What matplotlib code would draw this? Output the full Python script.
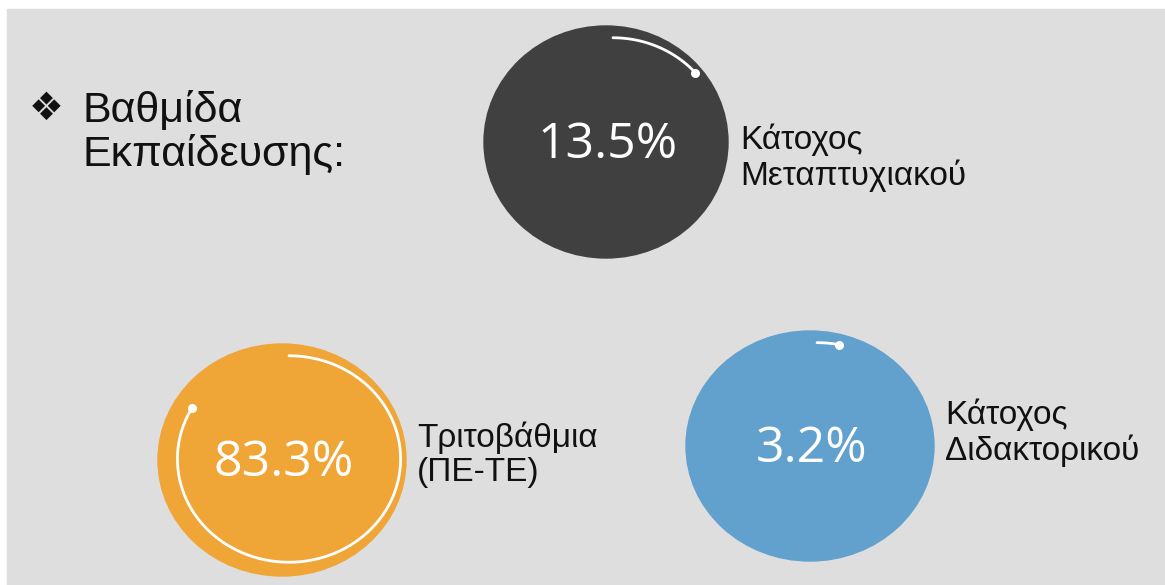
import numpy as np
import matplotlib
matplotlib.use("Agg")
import matplotlib.pyplot as plt
from matplotlib.patches import Ellipse, Rectangle

# data -----------------------------------------------------------
labels = ["Κάτοχος\nΜεταπτυχιακού", "Τριτοβάθμια\n(ΠΕ-ΤΕ)", "Κάτοχος\nΔιδακτορικού"]
percents = [13.5, 83.3, 3.2]
colors = ["#404040", "#f0a537", "#62a0ce"]
title = "Βαθμίδα\nΕκπαίδευσης:"

# layout (pixel coords, y down) -----------------------------------
centers = [(606, 142), (282, 460), (810, 446)]
radii = [(122, 116), (124, 116), (124, 115)]
label_pos = [(740, 158), (417, 455), (945, 433)]

fig = plt.figure(figsize=(11.65, 5.85), dpi=100)
ax = fig.add_axes([0, 0, 1, 1])
ax.set_xlim(0, 1165)
ax.set_ylim(585, 0)
ax.axis("off")

# grey slide background with white strip on top/left
ax.add_patch(Rectangle((7, 9), 1165, 585, color="#dedede", zorder=0))

for (cx, cy), (rx, ry), pct, col, lab, (lx, ly) in zip(
        centers, radii, percents, colors, labels, label_pos):
    ax.add_patch(Ellipse((cx, cy), 2 * rx, 2 * ry, color=col, zorder=1))

    # progress arc, clockwise from 12 o'clock
    acx, acy = cx + 7, cy - 1
    arx, ary = rx * 0.9, ry * 0.89
    t = np.radians(np.linspace(0, pct / 100 * 360, 300))
    xs = acx + arx * np.sin(t)
    ys = acy - ary * np.cos(t)
    ax.plot(xs, ys, color="white", lw=2.0, solid_capstyle="round", zorder=2)
    ax.plot(xs[-1], ys[-1], "o", color="white", ms=5.5, zorder=3)

    ax.text(cx + 2, cy + 3, f"{pct}%", color="white", fontsize=36,
            family="Open Sans", ha="center", va="center", zorder=4)
    ax.text(lx, ly, lab, color="#111111", fontsize=24,
            family="Liberation Sans", ha="left", va="center", linespacing=1.12)

ax.text(46, 109, "\u2756", fontsize=28, family="DejaVu Sans",
        ha="center", va="center", color="#111111")
ax.text(82, 133, title, fontsize=31, family="Liberation Sans",
        ha="left", va="center", color="#111111", linespacing=1.1)

fig.savefig("out.png", dpi=100)
